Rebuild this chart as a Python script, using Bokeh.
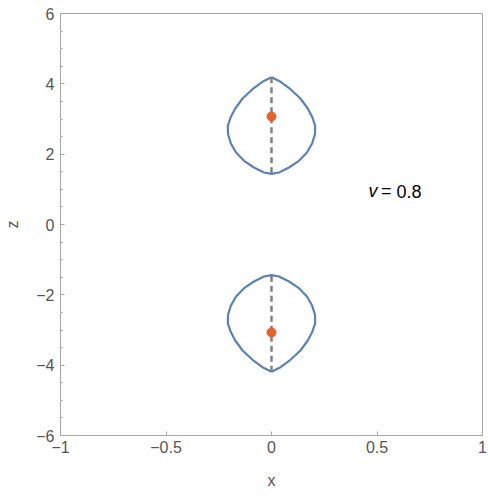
from bokeh.plotting import figure
from bokeh.embed import file_html
from bokeh.resources import INLINE
from bokeh.models import Range1d, FixedTicker, CustomJSTickFormatter, Label

# right half of the upper lens (x >= 0), traced from top cusp to bottom cusp
lens_x = [0.0, 0.043, 0.090, 0.137, 0.172, 0.194, 0.207, 0.206, 0.193, 0.168, 0.130, 0.083, 0.036, 0.0]
lens_z = [4.19, 4.057, 3.847, 3.583, 3.298, 3.042, 2.806, 2.567, 2.312, 2.047, 1.811, 1.621, 1.478, 1.44]
axis_top = [4.19, 1.44]          # dashed axis segment of the upper lens
source_z = [3.07, -3.07]         # orange points
source_x = [0.0, 0.0]
x_ticks = [-1, -0.5, 0, 0.5, 1]
z_ticks = [-6, -4, -2, 0, 2, 4, 6]
z_minor = [-5.5, -5, -4.5, -3.5, -3, -2.5, -1.5, -1, -0.5, 0.5, 1, 1.5, 2.5, 3, 3.5, 4.5, 5, 5.5]
label_v = "v"
label_eq = "="
label_val = "0.8"

FONT = "Liberation Sans"
GRAY = "#A6A6A6"
TXT = "#555555"

p = figure(width=488, height=498, output_backend="svg", toolbar_location=None,
           x_range=Range1d(-1, 1), y_range=Range1d(-6, 6),
           min_border_left=60, min_border_right=6, min_border_top=13, min_border_bottom=63)
p.grid.visible = False
p.outline_line_color = GRAY
p.outline_line_width = 1
p.background_fill_color = "white"
p.border_fill_color = "white"

fmt = CustomJSTickFormatter(code="return tick < 0 ? '\u2212' + Math.abs(tick) : String(tick);")

p.xaxis.ticker = FixedTicker(ticks=x_ticks)
p.yaxis.ticker = FixedTicker(ticks=z_ticks, minor_ticks=z_minor)
for ax in (p.xaxis, p.yaxis):
    ax.formatter = fmt
    ax.axis_line_color = GRAY
    ax.major_tick_line_color = GRAY
    ax.minor_tick_line_color = GRAY
    ax.major_tick_in = 4
    ax.major_tick_out = 0
    ax.minor_tick_in = 2
    ax.minor_tick_out = 0
    ax.major_label_text_font = FONT
    ax.major_label_text_font_size = "16px"
    ax.major_label_text_color = TXT
    ax.axis_label_text_font = FONT
    ax.axis_label_text_font_size = "16px"
    ax.axis_label_text_color = TXT
    ax.axis_label_text_font_style = "normal"
p.xaxis.minor_tick_line_color = None
p.xaxis.axis_label = "x"
p.yaxis.axis_label = "z"
p.xaxis.major_label_standoff = 5
p.yaxis.major_label_standoff = 6
p.xaxis.axis_label_standoff = 16
p.yaxis.axis_label_standoff = 12

# closed lens curves (upper and lower), mirrored about x = 0
loop_x = lens_x + [-v for v in reversed(lens_x)]
loop_z = lens_z + list(reversed(lens_z))
for sgn in (1, -1):
    p.line(loop_x, [sgn * z for z in loop_z], line_color="#5E81B5", line_width=2.2,
           line_join="round")
    p.line([0, 0], [sgn * z for z in axis_top], line_color="#808080", line_width=2.5,
           line_dash="6 4")

p.scatter(source_x, source_z, size=9, fill_color="#E8602C", line_color="#E8602C")

for lx, txt, style in ((0.460, label_v, "italic"), (0.519, label_eq, "normal"),
                       (0.592, label_val, "normal")):
    p.add_layout(Label(x=lx, y=0.94, text=txt, text_font=FONT, text_font_size="18px",
                       text_font_style=style, text_color="black", text_baseline="alphabetic"))

open("out.html", "w").write(file_html(p, INLINE))
